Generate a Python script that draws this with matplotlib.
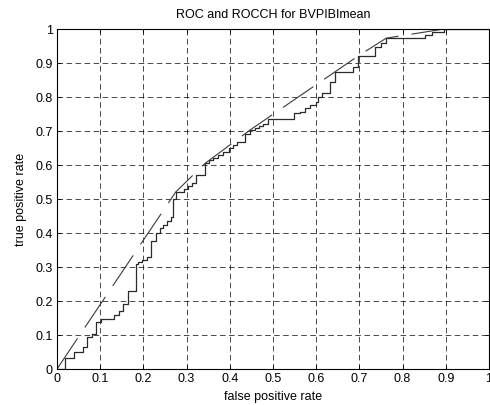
import matplotlib
matplotlib.use("Agg")
import matplotlib.pyplot as plt

# ROC curve (step corners)
fpr = [0.0, 0.0185, 0.0185, 0.040, 0.040, 0.061, 0.061, 0.070, 0.070, 0.082, 0.082,
       0.0895, 0.0895, 0.102, 0.102, 0.133, 0.133, 0.1435, 0.1435, 0.152, 0.152,
       0.165, 0.165, 0.182, 0.182, 0.187, 0.187, 0.197, 0.197, 0.2075, 0.2075,
       0.217, 0.217, 0.229, 0.229, 0.238, 0.238, 0.245, 0.245, 0.254, 0.254,
       0.263, 0.263, 0.268, 0.268, 0.275, 0.275, 0.295, 0.295, 0.304, 0.304,
       0.312, 0.312, 0.321, 0.321, 0.343, 0.343, 0.352, 0.352, 0.362, 0.362,
       0.373, 0.373, 0.385, 0.385, 0.397, 0.397, 0.408, 0.408, 0.416, 0.416,
       0.435, 0.435, 0.447, 0.447, 0.458, 0.458, 0.467, 0.467, 0.477, 0.477,
       0.489, 0.489, 0.549, 0.549, 0.5625, 0.5625, 0.574, 0.574, 0.586, 0.586,
       0.599, 0.599, 0.604, 0.604, 0.613, 0.613, 0.633, 0.633, 0.6435, 0.6435,
       0.686, 0.686, 0.6975, 0.6975, 0.736, 0.736, 0.749, 0.749, 0.762, 0.762,
       0.852, 0.852, 0.867, 0.867, 0.896, 0.896, 1.0]
tpr = [0.0, 0.0, 0.031, 0.031, 0.051, 0.051, 0.064, 0.064, 0.093, 0.093, 0.103,
       0.103, 0.137, 0.137, 0.146, 0.146, 0.158, 0.158, 0.171, 0.171, 0.190,
       0.190, 0.230, 0.230, 0.310, 0.310, 0.316, 0.316, 0.322, 0.322, 0.330,
       0.330, 0.377, 0.377, 0.401, 0.401, 0.414, 0.414, 0.424, 0.424, 0.436,
       0.436, 0.448, 0.448, 0.499, 0.499, 0.521, 0.521, 0.528, 0.528, 0.538,
       0.538, 0.548, 0.548, 0.570, 0.570, 0.605, 0.605, 0.615, 0.615, 0.620,
       0.620, 0.629, 0.629, 0.639, 0.639, 0.649, 0.649, 0.659, 0.659, 0.669,
       0.669, 0.690, 0.690, 0.703, 0.703, 0.708, 0.708, 0.715, 0.715, 0.722,
       0.722, 0.735, 0.735, 0.752, 0.752, 0.757, 0.757, 0.767, 0.767, 0.776,
       0.776, 0.786, 0.786, 0.800, 0.800, 0.813, 0.813, 0.845, 0.845, 0.873,
       0.873, 0.889, 0.889, 0.921, 0.921, 0.948, 0.948, 0.960, 0.960, 0.973,
       0.973, 0.982, 0.982, 0.990, 0.990, 1.0, 1.0]

# convex hull vertices
hull_fpr = [0.0, 0.275, 0.343, 0.447, 0.6975, 0.762, 0.896, 1.0]
hull_tpr = [0.0, 0.521, 0.605, 0.703, 0.921, 0.973, 1.0, 1.0]

ticks = [0, 0.1, 0.2, 0.3, 0.4, 0.5, 0.6, 0.7, 0.8, 0.9, 1]
tick_labels = ["0", "0.1", "0.2", "0.3", "0.4", "0.5", "0.6", "0.7", "0.8", "0.9", "1"]

plt.rcParams['font.family'] = ['Liberation Sans', 'DejaVu Sans']
plt.rcParams['lines.scale_dashes'] = False

fig = plt.figure(figsize=(4.9, 4.05), dpi=100)
ax = fig.add_axes([57 / 490, 36 / 405, 432 / 490, 340 / 405])

ax.plot(fpr, tpr, color='#2a2a2a', linewidth=0.9)
ax.plot(hull_fpr, hull_tpr, color='#3a3a3a', linewidth=0.8, dashes=(26.5, 9.5))

ax.set_xlim(0, 1)
ax.set_ylim(0, 1)
ax.set_xticks(ticks)
ax.set_yticks(ticks)
ax.set_xticklabels(tick_labels)
ax.set_yticklabels(tick_labels)
ax.tick_params(direction='in', length=3, width=0.6, top=True, right=True,
               labelsize=9, pad=3, colors='black')
ax.grid(True, color='black', linewidth=0.5, dashes=(4, 2.5))
for s in ax.spines.values():
    s.set_linewidth(0.8)

ax.set_title("ROC and ROCCH for BVPIBImean", fontsize=9, pad=8)
ax.set_xlabel("false positive rate", fontsize=9, labelpad=4)
ax.set_ylabel("true positive rate", fontsize=9, labelpad=6)

fig.savefig("out.png", dpi=100)
